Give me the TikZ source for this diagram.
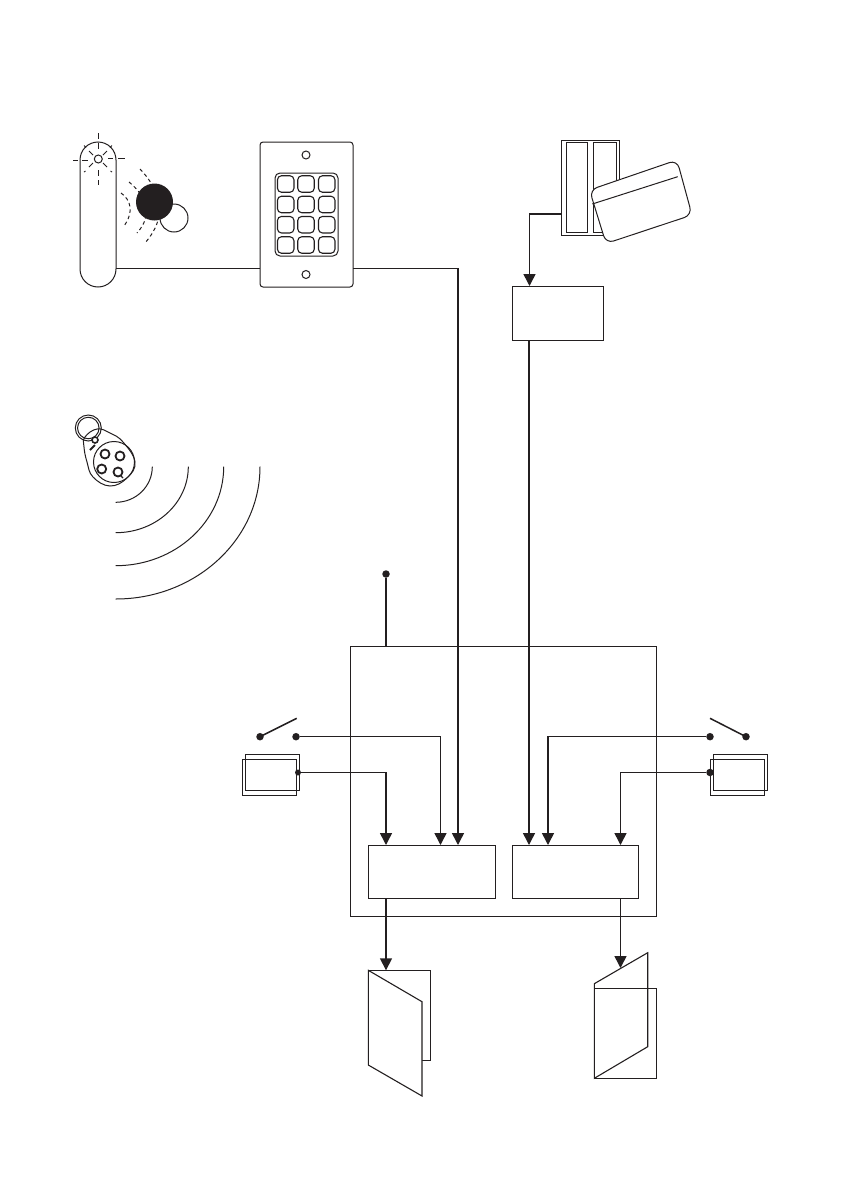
\documentclass[tikz,border=0pt]{standalone}
\usetikzlibrary{arrows.meta,calc}
\definecolor{ink}{HTML}{231F20}
\tikzset{
  x=1pt,y=-1pt,
  every path/.style={line width=1pt,color=ink},
  box/.style={draw=ink,line width=1pt,fill=white,rectangle,inner sep=0pt,outer sep=0pt,anchor=north west},
  padkey/.style={draw=ink,line width=1.1pt,rectangle,rounded corners=4pt,minimum width=16.5pt,minimum height=16.5pt,inner sep=0pt,outer sep=0pt},
  disc/.style={circle,fill=ink,draw=none,minimum size=7.5pt,inner sep=0pt,outer sep=0pt},
  ringnode/.style={circle,draw=ink,fill=white,line width=1pt,inner sep=0pt,outer sep=0pt},
  wire/.style={line width=1.5pt,draw=ink},
  arrowwire/.style={wire,-{Triangle[width=12pt,length=12pt]}},
  dashray/.style={line width=.9pt,draw=ink},
  dotarc/.style={line width=1pt,draw=ink,dash pattern=on 3.5pt off 3pt},
}
\begin{document}
\begin{tikzpicture}
\useasboundingbox (0,0) rectangle (841,1191);

% remote
\node[box,rounded corners=18pt,minimum width=36pt,minimum height=145pt] (remote) at (80,142) {};
\node[ringnode,minimum size=8pt] (led) at (98.3,159) {};
\draw[dashray] (98.3,133)--(98.3,139) (98.3,143)--(98.3,149);
\draw[dashray] (98.3,170)--(98.3,176) (98.3,180)--(98.3,185);
\draw[dashray] (73,160)--(78,160) (82,160)--(88,160);
\draw[dashray] (108,158)--(113,158) (118,158)--(125,158);
\draw[dashray] (84,145.5)--(86,147.5) (89,151)--(93,155);
\draw[dashray] (112,145.5)--(110,147.5) (107,151)--(103,155);
\draw[dashray] (84,172)--(85.5,171) (89,167)--(93,163);
\draw[dashray] (112,172)--(110.5,171) (107,167)--(103,163);

% proximity tag
\node[ringnode,minimum size=28pt] (tagback) at (174,218) {};
\draw[dotarc] (140,169) .. controls (156,186) and (172,212) .. (145,243);
\draw[dotarc] (129,182) .. controls (146,196) and (154,214) .. (137,233);
\draw[dotarc] (121,193) .. controls (131,200) and (134,212) .. (124,226);
\node[circle,fill=ink,draw=none,minimum size=37pt,inner sep=0pt] (tagfront) at (154.5,202) {};

% keypad
\node[box,rounded corners=3pt,minimum width=93pt,minimum height=145pt] (keypad) at (260,142) {};
\node[ringnode,minimum size=8pt] (screwA) at (306,155) {};
\node[ringnode,minimum size=8pt] (screwB) at (306,274.5) {};
\node[box,rounded corners=5pt,minimum width=63pt,minimum height=83pt] (keys) at (275,173) {};
\foreach \kx [count=\i] in {285.7,306,326.7}
  \foreach \ky [count=\j] in {184,204.5,224.7,245}
    \node[padkey] (key\i\j) at (\kx,\ky) {};

% card reader
\node[box,minimum width=58pt,minimum height=95.5pt] (reader) at (561,140) {};
\node[box,minimum width=21pt,minimum height=90pt] (slotA) at (566.5,142) {};
\node[box,minimum width=22.5pt,minimum height=90pt] (slotB) at (593.5,142) {};
\draw[fill=white,rounded corners=8pt] (589.5,190) -- (677,160) -- (692,215) -- (606,243.5) -- cycle;
\draw (592.3,204) -- (677.7,176.7);

% decoder
\node[box,minimum width=91pt,minimum height=54pt] (decoder) at (512,286) {};

% key fob
\draw[line width=1pt] plot[smooth cycle,tension=.7] coordinates {(85,437) (97,429) (110,433) (123,442) (135,462) (127,478) (110,486) (93,477) (87,462) (84,447)};
\node[ringnode,fill=none,minimum size=41pt] (fobcircle) at (114,462) {};
\node[circle,draw=ink,line width=1pt,minimum size=26pt,inner sep=0pt] (ringO) at (88.3,428) {};
\node[circle,draw=ink,line width=1pt,minimum size=21.5pt,inner sep=0pt] (ringI) at (88.3,428) {};
\node[ringnode,minimum size=6pt,line width=1.6pt] (hole) at (95,440) {};
\draw[line width=1.8pt] (90,450)--(95,445);
\draw[line width=1.2pt] (120,475)--(123,478);
\foreach \bx/\by [count=\i] in {105/454,120/456,101.7/469,118/472}
  \node[ringnode,line width=1.8pt,minimum size=9pt] (fobkey\i) at (\bx,\by) {};
\foreach \rx/\ry in {36.6/35.6,72.6/66,108/99,144.3/132.3}
  \draw[line width=1pt] ({115.7+\rx},466.7) .. controls ({115.7+\rx},{466.7+.5523*\ry}) and ({115.7+.5523*\rx},{466.7+\ry}) .. (115.7,{466.7+\ry});

% main enclosure
\node[box,fill=none,minimum width=306pt,minimum height=270pt] (panel) at (350.5,646.4) {};
\node[disc] (aerial) at (386,574) {};
\draw[wire] (aerial) -- (aerial |- panel.north);

% controllers
\node[box,minimum width=126.5pt,minimum height=53pt] (ctrlL) at (368.5,845) {};
\node[box,minimum width=126pt,minimum height=53pt] (ctrlR) at (512.5,845) {};

% left switch and sensor
\node[disc] (swLa) at (260,736.7) {};
\node[disc] (swLb) at (296,736.7) {};
\coordinate (swLtip) at (296.7,718.3);
\draw[wire] (swLa.center) -- (swLtip);
\node[box,fill=none,minimum width=54.7pt,minimum height=36.3pt] (senLa) at (245,754) {};
\node[box,fill=none,minimum width=54.4pt,minimum height=36.2pt] (senLb) at (242.3,759.3) {};
\node[disc,minimum size=6pt] (senLd) at (298,772.5) {};

% right switch and sensor
\node[disc] (swRa) at (746,736.7) {};
\node[disc] (swRb) at (710,736.7) {};
\coordinate (swRtip) at (710,718.3);
\draw[wire] (swRa.center) -- (swRtip);
\node[box,fill=none,minimum width=54.4pt,minimum height=36.3pt] (senRa) at (713.3,754) {};
\node[box,fill=none,minimum width=54.4pt,minimum height=36.2pt] (senRb) at (710.3,759.3) {};
\node[disc] (senRd) at (710,772.5) {};

% doors
\draw[line width=1.1pt] (422,1060.3) -- (430.3,1060.3) -- (430.3,970.3) -- (368.3,970.3);
\draw[line width=1.1pt,fill=white] (368.3,970.3) -- (422,1001.7) -- (422,1096) -- (368.3,1065) -- cycle;
\draw[line width=1.1pt] (594.3,983.7) -- (647.7,952.7) -- (647.7,1046.7) -- (594.3,1078.3) -- cycle;
\node[box,fill=none,line width=1.1pt,minimum width=62pt,minimum height=90pt] (doorR) at (594.3,988.3) {};
\coordinate (doorRtop) at (620.5,968);
\coordinate (doorLin) at (386,970.3);

% connectors
\draw[wire] (remote.east |- 0,268.3) -- (keypad.west |- 0,268.3);
\draw[arrowwire] (keypad.east |- 0,268.3) -- (458,268.3) -- (458,845);
\draw[arrowwire] (reader.west |- 0,214) -- (529.5,214) -- (529.5,286);
\draw[arrowwire] (529,340) -- (529,845);
\draw[arrowwire] (swLb) -- (440.5,736.7) -- (440.5,845);
\draw[arrowwire] (senLd) -- (386,772.5) -- (386,845);
\draw[arrowwire] (swRb) -- (548,736.7) -- (548,845);
\draw[arrowwire] (senRd) -- (620.5,772.5) -- (620.5,845);
\draw[arrowwire] (386,898) -- (doorLin);
\draw[arrowwire] (620.5,898) -- (doorRtop);
\end{tikzpicture}
\end{document}
